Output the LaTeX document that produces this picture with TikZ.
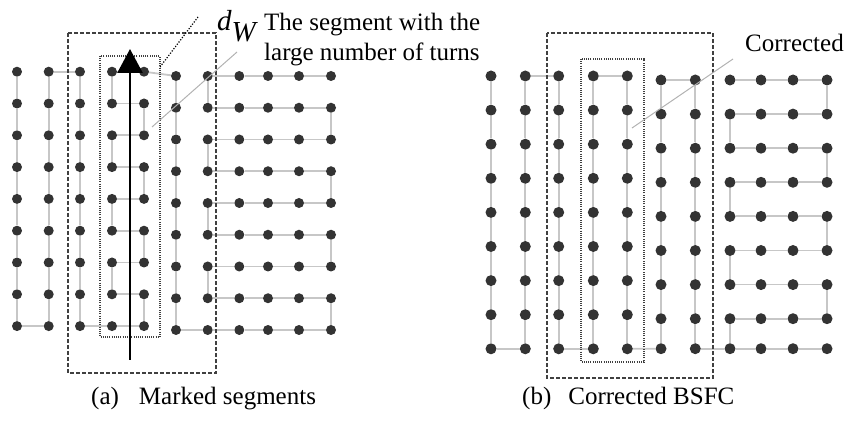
\documentclass[tikz,border=0pt]{standalone}
\usepackage{fontspec}
\setmainfont{Liberation Serif}
\usetikzlibrary{arrows.meta}

\tikzset{
  dot/.style={circle,fill=black!80,inner sep=0pt,minimum size=10pt},
  bdot/.style={dot,minimum size=11pt},
  link/.style={draw=black!22,line width=1.8pt},
  segbox/.style={draw=black!75,line width=1.4pt,dash pattern=on 4pt off 2pt},
  turnbox/.style={draw=black!75,line width=1.3pt,dash pattern=on 1pt off 1.2pt},
  callout/.style={draw=black!30,line width=1pt},
  label/.style={inner sep=0pt,font=\fontsize{25}{30}\selectfont}
}

\begin{document}
\begin{tikzpicture}[x=1pt,y=-1pt]
\useasboundingbox (0,0) rectangle (859,427);

% (a) marked segments
\foreach \x [count=\i] in {17,48.7,80,112,144,176,207.7,239.3,268,299,331} {
  \foreach \j in {1,...,9} {
    \pgfmathsetmacro\y{(\i<6 ? 71.7+31.8*(\j-1) : 76+31.75*(\j-1))}
    \node[dot] (a\i-\j) at (\x,\y) {};
  }
}
\foreach \c in {1,2,3,6}
  \foreach \j [count=\k from 2] in {1,...,8}
    \draw[link] (a\c-\j) -- (a\c-\k);
\foreach \j [evaluate=\j as \k using int(\j+1)] in {1,3,5,7} {
  \draw[link] (a4-\j) -- (a4-\k);
  \draw[link] (a7-\j) -- (a7-\k);
}
\foreach \j [evaluate=\j as \k using int(\j+1)] in {2,4,6,8} {
  \draw[link] (a5-\j) -- (a5-\k);
  \draw[link] (a11-\j) -- (a11-\k);
}
\foreach \j in {1,...,9} {
  \draw[link] (a4-\j) -- (a5-\j);
  \draw[link] (a7-\j) -- (a8-\j) -- (a9-\j) -- (a10-\j) -- (a11-\j);
}
\draw[link] (a1-9) -- (a2-9);
\draw[link] (a3-9) -- (a4-9);
\draw[link] (a6-9) -- (a7-9);
\draw[link] (a2-1) -- (a3-1);
\draw[link] (a5-1) -- (a6-1);

\draw[segbox] (68,33) rectangle (216,373);
\draw[turnbox] (100,56) rectangle (160,337);

\coordinate (dwfoot) at (130,360);
\coordinate (dwtip) at (130,49);
\draw[line width=2.6pt,-{Triangle[width=25pt,length=24pt]}] (dwfoot) -- (dwtip);

\node[inner sep=0pt,font=\fontsize{29}{30}\selectfont,anchor=base west] (dw) at (217,31) {$\textit{d}_{\textit{W}}$};
\coordinate (dwfrom) at (160,67);
\coordinate (dwto) at (198,17);
\draw[line width=1.2pt,dash pattern=on 1.2pt off 1.6pt] (dwfrom) -- (dwto);

\node[label,anchor=north west,align=left] (segtext) at (264,12.5)
  {The segment with the\\large number of turns};
\coordinate (segfrom) at (152,127);
\coordinate (segto) at (237,52);
\draw[callout] (segfrom) -- (segto);

% (b) corrected BSFC
\foreach \x [count=\i] in {491,525.3,558.7,593.3,627.3,661,695.3,730,761,793,827} {
  \foreach \j in {1,...,9} {
    \pgfmathsetmacro\y{(\i<6 ? 76+34.1*(\j-1) : (\j<9 ? 80+34.1*(\j-1) : 348.7))}
    \node[bdot] (b\i-\j) at (\x,\y) {};
  }
}
\foreach \c in {1,...,7}
  \foreach \j [count=\k from 2] in {1,...,8}
    \draw[link] (b\c-\j) -- (b\c-\k);
\foreach \j [evaluate=\j as \k using int(\j+1)] in {2,4,6,8}
  \draw[link] (b8-\j) -- (b8-\k);
\foreach \j [evaluate=\j as \k using int(\j+1)] in {1,3,5,7}
  \draw[link] (b11-\j) -- (b11-\k);
\foreach \j in {1,...,9}
  \draw[link] (b8-\j) -- (b9-\j) -- (b10-\j) -- (b11-\j);
\draw[link] (b1-9) -- (b2-9);
\draw[link] (b3-9) -- (b4-9);
\draw[link] (b5-9) -- (b6-9);
\draw[link] (b7-9) -- (b8-9);
\draw[link] (b2-1) -- (b3-1);
\draw[link] (b4-1) -- (b5-1);
\draw[link] (b6-1) -- (b7-1);

\draw[segbox] (547,33) rectangle (713,378);
\draw[turnbox] (581,59) rectangle (644,362);

\node[label,anchor=base west] (cortext) at (745,52) {Corrected};
\coordinate (corfrom) at (632,128);
\coordinate (corto) at (733,59);
\draw[callout] (corfrom) -- (corto);

% captions
\node[label,anchor=base west] (capa) at (91,404) {(a)\hspace{20pt}Marked segments};
\node[label,anchor=base west] (capb) at (522,404) {(b)\hspace{17pt}Corrected BSFC};
\end{tikzpicture}
\end{document}
